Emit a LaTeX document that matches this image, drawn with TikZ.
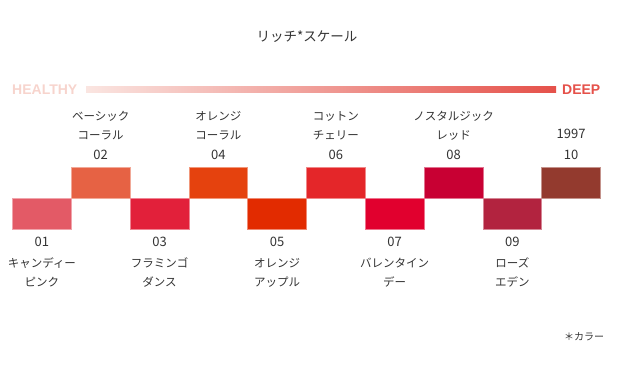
\documentclass[tikz,border=0pt]{standalone}
\usepackage{fontspec}
\newfontfamily\jpfont{Noto Sans CJK JP}
\setsansfont{Liberation Sans}
\usetikzlibrary{positioning}

\definecolor{c01}{HTML}{E35A66}
\definecolor{c02}{HTML}{E66244}
\definecolor{c03}{HTML}{E2203A}
\definecolor{c04}{HTML}{E5420E}
\definecolor{c05}{HTML}{E22B00}
\definecolor{c06}{HTML}{E42629}
\definecolor{c07}{HTML}{E1002E}
\definecolor{c08}{HTML}{C80033}
\definecolor{c09}{HTML}{B2233F}
\definecolor{c10}{HTML}{933A2E}
\definecolor{healthy}{HTML}{F7D4CD}
\definecolor{deep}{HTML}{E5514A}
\definecolor{txt}{HTML}{333333}

\begin{document}
\begin{tikzpicture}[
		x=1pt, y=-1pt,
		swatch/.style={
			rectangle, fill=#1, draw=#1!55!white, line width=0.6pt,
			inner sep=0pt, outer sep=0pt, minimum width=58.8pt, minimum height=31pt
		},
		numlbl/.style={font=\jpfont\fontsize{13}{15}\selectfont, text=txt, inner sep=0pt, text height=9pt, text depth=3pt},
		namelbl/.style={font=\jpfont\fontsize{11.5}{19}\selectfont, text=txt, inner sep=0pt, align=center},
		scalelbl/.style={font=\sffamily\bfseries\fontsize{14}{16}\selectfont, inner sep=0pt}
		]
		
		\useasboundingbox (0,0) rectangle (630,371);
		
		% Title
		\node[font=\jpfont\fontsize{13.5}{16}\selectfont, text=txt] (title) at (307,37) {リッチ*スケール};
		
		% Scale bar
		\node[scalelbl, text=healthy, anchor=west] (healthy) at (12,89.5) {HEALTHY};
		\node[scalelbl, text=deep, anchor=east] (deep) at (600.5,89.5) {DEEP};
		\node[inner sep=0pt, minimum width=470pt, minimum height=6pt, left color=healthy!60!white, right color=deep, anchor=west] (bar) at (86,90) {};
		
		% Swatches
		\node[swatch=c01, anchor=north west] (s01) at (12.5,198.3) {};
		\node[swatch=c02, above right=0pt and 0pt of s01] (s02) {};
		\node[swatch=c03, below right=0pt and 0pt of s02] (s03) {};
		\node[swatch=c04, above right=0pt and 0pt of s03] (s04) {};
		\node[swatch=c05, below right=0pt and 0pt of s04] (s05) {};
		\node[swatch=c06, above right=0pt and 0pt of s05] (s06) {};
		\node[swatch=c07, below right=0pt and 0pt of s06] (s07) {};
		\node[swatch=c08, above right=0pt and 0pt of s07] (s08) {};
		\node[swatch=c09, below right=0pt and 0pt of s08] (s09) {};
		\node[swatch=c10, above right=0pt and 0pt of s09] (s10) {};
		
		% Labels above
		\node[numlbl, above=4.6pt of s02] (n02) {02};
		\node[namelbl, above=9.7pt of n02] (t02) {ベーシック\\コーラル};
		\node[numlbl, above=4.6pt of s04] (n04) {04};
		\node[namelbl, above=9.7pt of n04] (t04) {オレンジ\\コーラル};
		\node[numlbl, above=4.6pt of s06] (n06) {06};
		\node[namelbl, above=9.7pt of n06] (t06) {コットン\\チェリー};
		\node[numlbl, above=4.6pt of s08] (n08) {08};
		\node[namelbl, above=9.7pt of n08] (t08) {ノスタルジック\\レッド};
		\node[numlbl, above=4.6pt of s10] (n10) {10};
		\node[numlbl, above=8.5pt of n10] (t10) {1997};
		
		% Labels below
		\node[numlbl, below=8pt of s01] (n01) {01};
		\node[namelbl, below=8.2pt of n01] (t01) {キャンディー\\ピンク};
		\node[numlbl, below=8pt of s03] (n03) {03};
		\node[namelbl, below=8.2pt of n03] (t03) {フラミンゴ\\ダンス};
		\node[numlbl, below=8pt of s05] (n05) {05};
		\node[namelbl, below=8.2pt of n05] (t05) {オレンジ\\アップル};
		\node[numlbl, below=8pt of s07] (n07) {07};
		\node[namelbl, below=8.2pt of n07] (t07) {バレンタイン\\デー};
		\node[numlbl, below=8pt of s09] (n09) {09};
		\node[namelbl, below=8.2pt of n09] (t09) {ローズ\\エデン};
		
		% Footnote
		\node[font=\jpfont\fontsize{10}{12}\selectfont, text=txt] (note) at (584,337) {＊カラー};
		
	\end{tikzpicture}
\end{document}
